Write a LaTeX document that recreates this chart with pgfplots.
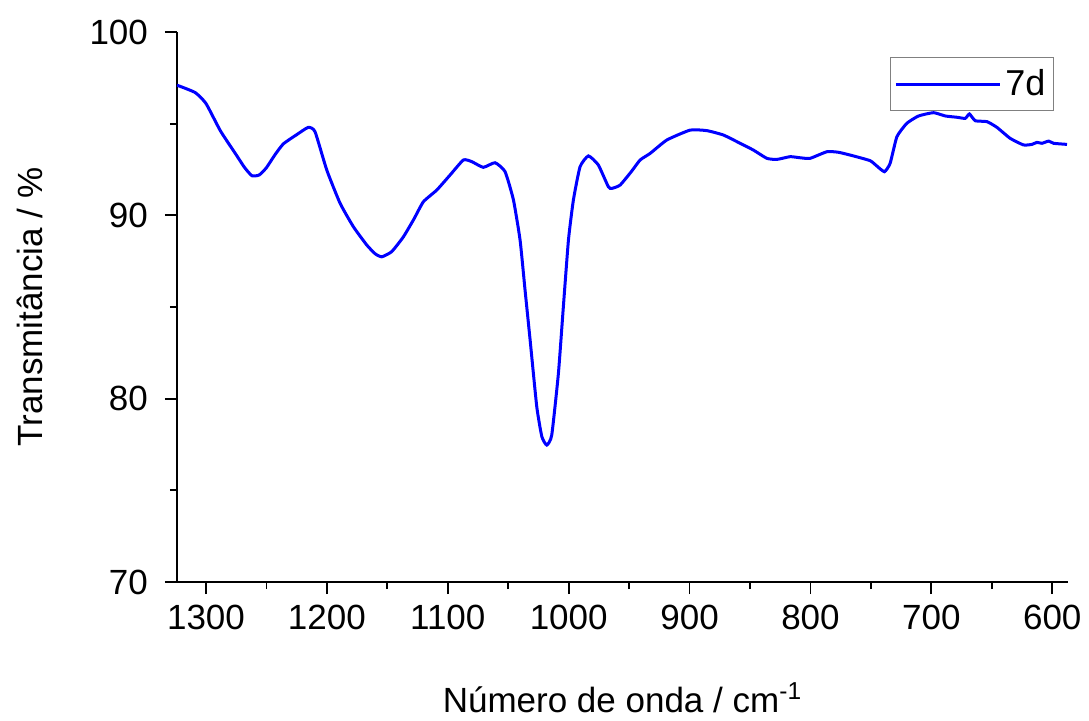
\documentclass[border=0pt]{standalone}
\usepackage{fontspec}
\setmainfont{Liberation Sans}
\usepackage{pgfplots}
\pgfplotsset{compat=1.18}

\begin{document}
\begin{tikzpicture}
\begin{axis}[
  name=ax,
  scale only axis,
  width=445.5pt, height=275pt,
  x dir=reverse,
  xmin=587, xmax=1324,
  ymin=70, ymax=100,
  axis x line*=bottom,
  axis y line*=left,
  axis line style={line width=0.9pt},
  xtick={600,700,...,1300},
  ytick={70,80,90,100},
  minor xtick={650,750,...,1250},
  minor ytick={75,85,95},
  tick align=outside,
  major tick length=6pt,
  minor tick length=3.5pt,
  every tick/.style={black, line width=0.9pt},
  font=\fontsize{17.5}{21}\selectfont,
  /pgf/number format/assume math mode=true,
  /pgf/number format/1000 sep={},
  xticklabel style={yshift=-2pt},
  yticklabel style={xshift=-5pt},
  xlabel={Número de onda / cm\textsuperscript{-1}},
  ylabel={Transmitância / \%},
  xlabel style={at={(0.5,0)}, anchor=base, yshift=-65pt},
  ylabel style={at={(axis description cs:-0.165,0.5)}, anchor=center},
  legend style={at={(1,1)}, anchor=north east, xshift=-7pt, yshift=-12.5pt,
    draw=gray, line width=0.6pt, inner xsep=2pt, inner ysep=4pt,
    font=\fontsize{18}{21}\selectfont},
  legend cell align=left,
  legend image code/.code={\draw[#1] (0pt,0pt) -- (52pt,0pt);},
]
\coordinate (O) at (rel axis cs:0,0);
\addplot[color={rgb,255:red,0;green,0;blue,255}, line width=1.5pt, smooth, tension=0.3] coordinates {
  (1324,97.1)(1309,96.7)(1300,96.1)(1288,94.6)(1275,93.3)(1268,92.6)(1262,92.16)
  (1256,92.2)(1250,92.6)(1243,93.3)(1236,93.9)(1225,94.4)(1215.4,94.8)(1209.8,94.56)
  (1200.1,92.47)(1189.1,90.66)(1178.1,89.38)(1167,88.38)(1160,87.9)(1154.6,87.74)
  (1146.4,88.02)(1136.7,88.83)(1128,89.8)(1120.2,90.74)(1109.1,91.38)(1098.1,92.2)
  (1087.1,93.02)(1080.2,92.93)(1070.6,92.62)(1060.9,92.87)(1052.6,92.38)(1045.7,90.84)
  (1040.2,88.65)(1036.1,85.93)(1031.9,83.2)(1026.4,79.56)(1022.2,77.93)(1018.1,77.47)
  (1014,78.02)(1008.5,81.38)(1004.4,85.02)(1000.2,88.65)(996.1,90.84)(990.6,92.65)
  (983.7,93.24)(975.5,92.75)(967.2,91.56)(964.3,91.47)(957.5,91.65)(948,92.4)(940.9,93.02)
  (932.6,93.38)(918.8,94.11)(899.5,94.65)(885.7,94.62)(872,94.38)(858.2,93.93)
  (847.2,93.56)(836.1,93.11)(827.8,93.05)(816.8,93.2)(808.5,93.14)(800.3,93.11)
  (786.4,93.47)(776.8,93.44)(764.4,93.24)(750.6,92.98)(745.1,92.69)(738.8,92.38)
  (734.1,92.84)(728.5,94.29)(720.3,95.02)(710.6,95.42)(698.2,95.6)(688.5,95.42)
  (678.9,95.35)(672,95.29)(668.5,95.53)(663.7,95.16)(654,95.11)(645.8,94.8)
  (634.8,94.2)(623.8,93.84)(616.8,93.87)(612.7,93.98)(608.5,93.93)(603,94.05)
  (598.9,93.93)(587.8,93.87)
};
\addlegendentry{7d}
\end{axis}
\pgfresetboundingbox
\path (O) ++(-88.5pt,-69pt) rectangle ++(544.5pt,360pt);
\end{tikzpicture}
\end{document}
